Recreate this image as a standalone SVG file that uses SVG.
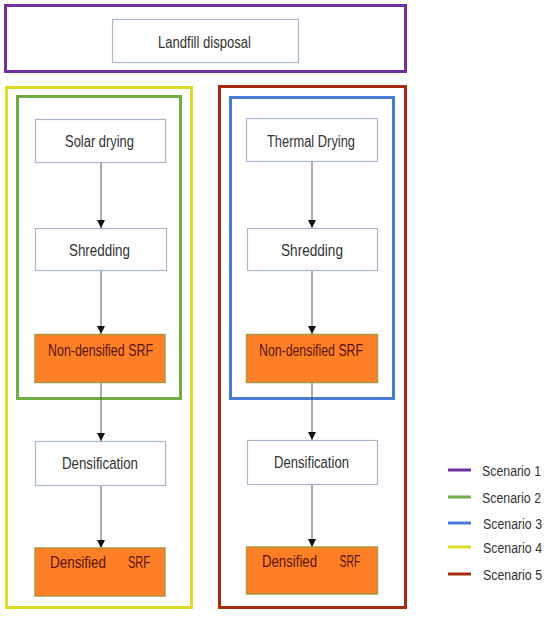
<svg xmlns="http://www.w3.org/2000/svg" width="550" height="617" viewBox="0 0 550 617">
<style>
.frame{fill:none;stroke-width:3}
.node{fill:#ffffff;stroke:#a9b6cc;stroke-width:1.2}
.srf{fill:#ff7f27;stroke:#a89a40;stroke-width:1.5}
.t{font-family:"Liberation Sans",Arial,sans-serif;font-size:16px;fill:#333333;text-anchor:middle}
.ts{font-family:"Liberation Sans",Arial,sans-serif;font-size:16px;fill:#5a1408;text-anchor:middle}
.lg{font-family:"Liberation Sans",Arial,sans-serif;font-size:14px;fill:#333333}
.edge{stroke:#555;stroke-width:1;fill:none;marker-end:url(#ah)}
.leg{stroke-width:3}
</style>
<defs>
<marker id="ah" viewBox="0 0 10 10" refX="10" refY="5" markerWidth="8" markerHeight="8" markerUnits="userSpaceOnUse" orient="auto">
<path d="M0,0 L10,5 L0,10 z" fill="#111"/>
</marker>
</defs>
<rect width="550" height="617" fill="#ffffff"/>
<g id="frames">
<rect id="scenario1" class="frame" x="5.5" y="5.5" width="400" height="66" stroke="#7030a0"/>
<rect id="scenario4" class="frame" x="6.5" y="87.5" width="185" height="520" stroke="#dcdc20"/>
<rect id="scenario2" class="frame" x="17.5" y="96.5" width="163" height="302" stroke="#70ad47"/>
<rect id="scenario5" class="frame" x="219.5" y="86.5" width="186" height="521" stroke="#a52a12"/>
<rect id="scenario3" class="frame" x="230.5" y="97.5" width="163" height="301" stroke="#4a7bd6"/>
</g>
<g id="connectors">
<line class="edge" x1="101" y1="163" x2="101" y2="228"/>
<line class="edge" x1="101" y1="270" x2="101" y2="334"/>
<line class="edge" x1="101" y1="383" x2="101" y2="441"/>
<line class="edge" x1="101" y1="486" x2="101" y2="548"/>
<line class="edge" x1="312" y1="162" x2="312" y2="228"/>
<line class="edge" x1="312" y1="270" x2="312" y2="334"/>
<line class="edge" x1="312" y1="382" x2="312" y2="440"/>
<line class="edge" x1="312" y1="484" x2="312" y2="547"/>
</g>
<g id="landfill">
<rect class="node" x="112.5" y="19.5" width="186" height="43"/>
<text class="t" x="204.5" y="48" textLength="93" lengthAdjust="spacingAndGlyphs">Landfill disposal</text>
</g>
<g id="solar">
<rect class="node" x="35.5" y="119.5" width="130" height="43"/>
<text class="t" x="99.5" y="147" textLength="69" lengthAdjust="spacingAndGlyphs">Solar drying</text>
</g>
<g id="thermal">
<rect class="node" x="246.5" y="118.5" width="131" height="43"/>
<text class="t" x="311" y="147" textLength="88" lengthAdjust="spacingAndGlyphs">Thermal Drying</text>
</g>
<g id="shred1">
<rect class="node" x="35.5" y="228.5" width="131" height="42"/>
<text class="t" x="99.5" y="256" textLength="61" lengthAdjust="spacingAndGlyphs">Shredding</text>
</g>
<g id="shred2">
<rect class="node" x="247.5" y="228.5" width="130" height="42"/>
<text class="t" x="312" y="256" textLength="62" lengthAdjust="spacingAndGlyphs">Shredding</text>
</g>
<g id="nonsrf1">
<rect class="srf" x="35" y="334.5" width="130" height="48"/>
<text class="ts" x="100.5" y="356" textLength="105" lengthAdjust="spacingAndGlyphs">Non-densified SRF</text>
</g>
<g id="nonsrf2">
<rect class="srf" x="246.5" y="334.5" width="131" height="48"/>
<text class="ts" x="311" y="356" textLength="104" lengthAdjust="spacingAndGlyphs">Non-densified SRF</text>
</g>
<g id="dens1">
<rect class="node" x="35.5" y="441.5" width="130" height="44"/>
<text class="t" x="100" y="469" textLength="76" lengthAdjust="spacingAndGlyphs">Densification</text>
</g>
<g id="dens2">
<rect class="node" x="247.5" y="440.5" width="130" height="44"/>
<text class="t" x="311.5" y="468" textLength="75" lengthAdjust="spacingAndGlyphs">Densification</text>
</g>
<g id="srf1">
<rect class="srf" x="35" y="548" width="130" height="48"/>
<text class="ts" x="78" y="568" textLength="56" lengthAdjust="spacingAndGlyphs">Densified</text>
<text class="ts" x="139" y="568" textLength="22" lengthAdjust="spacingAndGlyphs">SRF</text>
</g>
<g id="srf2">
<rect class="srf" x="246.5" y="547" width="131" height="47"/>
<text class="ts" x="289.5" y="567" textLength="55" lengthAdjust="spacingAndGlyphs">Densified</text>
<text class="ts" x="350" y="567" textLength="21" lengthAdjust="spacingAndGlyphs">SRF</text>
</g>
<g id="legend">
<line class="leg" x1="448" y1="470" x2="471" y2="470" stroke="#7030a0"/>
<text class="lg" x="482" y="476" textLength="59" lengthAdjust="spacingAndGlyphs">Scenario 1</text>
<line class="leg" x1="448" y1="497" x2="471" y2="497" stroke="#70ad47"/>
<text class="lg" x="482" y="503" textLength="59" lengthAdjust="spacingAndGlyphs">Scenario 2</text>
<line class="leg" x1="448" y1="523" x2="471" y2="523" stroke="#4a7bd6"/>
<text class="lg" x="483" y="529" textLength="59" lengthAdjust="spacingAndGlyphs">Scenario 3</text>
<line class="leg" x1="448" y1="547" x2="471" y2="547" stroke="#dcdc20"/>
<text class="lg" x="483" y="553" textLength="59" lengthAdjust="spacingAndGlyphs">Scenario 4</text>
<line class="leg" x1="448" y1="574" x2="471" y2="574" stroke="#a52a12"/>
<text class="lg" x="483" y="580" textLength="59" lengthAdjust="spacingAndGlyphs">Scenario 5</text>
</g>
</svg>
